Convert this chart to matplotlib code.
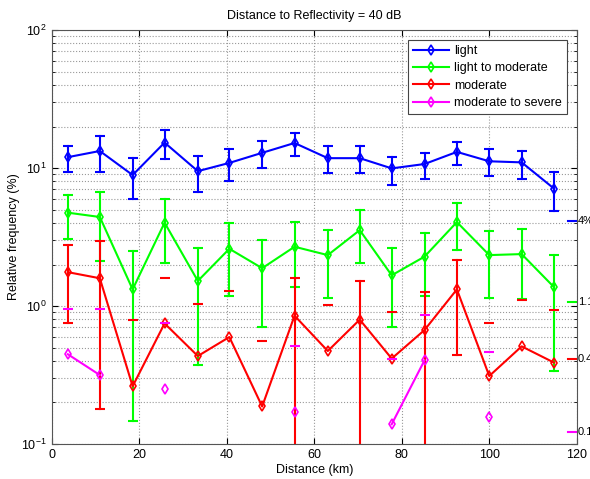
import matplotlib
matplotlib.use('Agg')
import matplotlib.pyplot as plt
import numpy as np

plt.rcParams['font.family'] = ['Liberation Sans', 'DejaVu Sans']

nan = np.nan

# Centres des classes de distance (km)
distance = [3.7, 11.0, 18.5, 25.8, 33.4, 40.6, 48.1, 55.5, 63.1, 70.4,
            77.7, 85.2, 92.6, 100.0, 107.4, 114.8]

# light
light = [12.0, 13.3, 8.9, 15.3, 9.5, 10.9, 12.9, 15.2, 11.8, 11.8, 9.95, 10.7, 13.1, 11.2, 11.0, 7.1]
light_haut = [14.4, 17.1, 11.8, 19.0, 12.2, 13.7, 15.7, 18.1, 14.4, 14.4, 12.0, 12.8, 15.5, 13.7, 13.3, 9.4]
light_bas = [9.4, 9.4, 6.0, 11.7, 6.7, 8.1, 10.0, 12.2, 9.2, 9.2, 7.6, 8.3, 10.5, 8.7, 8.3, 4.9]

# light to moderate
light_mod = [4.75, 4.42, 1.32, 4.02, 1.52, 2.6, 1.88, 2.69, 2.34, 3.55, 1.67, 2.28, 4.06, 2.34, 2.38, 1.37]
light_mod_haut = [6.37, 6.7, 2.49, 5.93, 2.62, 3.99, 3.01, 4.06, 3.54, 4.96, 2.62, 3.36, 5.55, 3.52, 3.6, 2.34]
light_mod_bas = [3.08, 2.12, 0.146, 2.05, 0.373, 1.18, 0.70, 1.37, 1.15, 2.05, 0.71, 1.18, 2.55, 1.15, 1.12, 0.338]

# moderate (None = borne basse negative, non tracee en log)
moderate = [1.76, 1.59, 0.262, 0.748, 0.434, 0.596, 0.187, 0.851, 0.472, 0.797, 0.416, 0.67, 1.32, 0.311, 0.51, 0.389]
moderate_haut = [2.77, 2.96, 0.787, 1.61, 1.03, 1.28, 0.561, 1.60, 1.02, 1.51, 0.90, 1.26, 2.17, 0.753, 1.10, 0.936]
moderate_bas = [0.757, 0.178, None, None, None, None, None, 0.05, None, 0.05, None, 0.05, 0.44, None, None, None]

# moderate to severe
mod_severe = [0.447, 0.316, nan, 0.252, nan, nan, nan, 0.171, nan, nan, 0.139, 0.404, nan, 0.157, nan, nan]
mod_severe_haut = [0.95, 0.95, None, 0.75, None, None, None, 0.51, None, None, 0.416, 0.867, None, 0.466, None, None]
mod_severe_bas = [None] * 16

# Valeurs moyennes affichees a droite
moyennes = [4.1, 1.07, 0.41, 0.122]
moyennes_txt = ['4%', '1.1%', '0.4%', '0.1%']

couleurs = ['#0000ff', '#00ff00', '#ff0000', '#ff00ff']
noms = ['light', 'light to moderate', 'moderate', 'moderate to severe']


def trace_serie(ax, x, y, haut, bas, couleur, nom):
    ax.plot(x, y, '-', color=couleur, lw=1.5, marker='d', mfc='none', mec=couleur,
            ms=5.5, mew=1.2, label=nom)
    for xi, hi, bi in zip(x, haut, bas):
        if hi is None:
            continue
        ax.plot([xi], [hi], marker='_', color=couleur, ms=7, mew=1.5)
        if bi is not None:
            ax.plot([xi, xi], [bi, hi], color=couleur, lw=1.5)
            ax.plot([xi], [bi], marker='_', color=couleur, ms=7, mew=1.5)


fig = plt.figure(figsize=(5.9, 4.79), dpi=100)
ax = fig.add_axes([0.0876, 0.0731, 0.890, 0.864])

trace_serie(ax, distance, light, light_haut, light_bas, couleurs[0], noms[0])
trace_serie(ax, distance, light_mod, light_mod_haut, light_mod_bas, couleurs[1], noms[1])
trace_serie(ax, distance, moderate, moderate_haut, moderate_bas, couleurs[2], noms[2])
trace_serie(ax, distance, mod_severe, mod_severe_haut, mod_severe_bas, couleurs[3], noms[3])

for val, txt, c in zip(moyennes, moyennes_txt, couleurs):
    ax.plot([118, 120], [val, val], color=c, lw=1.5)
    ax.text(120.2, val, txt, fontsize=8, va='center', ha='left', clip_on=False)

ax.set_yscale('log')
ax.set_xlim(0, 120)
ax.set_ylim(0.1, 100)
ax.set_xticks([0, 20, 40, 60, 80, 100, 120])
ax.grid(True, which='major', axis='x', ls=':', color='#999999', lw=0.8)
ax.grid(True, which='both', axis='y', ls=':', color='#999999', lw=0.8)
ax.tick_params(which='both', direction='in', top=True, right=True, labelsize=9)
ax.tick_params(which='major', length=4)
ax.tick_params(which='minor', length=2)
for s in ax.spines.values():
    s.set_color('#555555')

ax.set_xlabel('Distance (km)', fontsize=9, labelpad=2)
ax.set_ylabel('Relative frequency (%)', fontsize=9, labelpad=1)
ax.set_title('Distance to Reflectivity = 40 dB', fontsize=9, pad=8)

leg = ax.legend(loc='upper right', fontsize=9, fancybox=False, framealpha=1,
                edgecolor='#444444', borderaxespad=0.8, handlelength=2.9,
                labelspacing=0.42, handletextpad=0.4, borderpad=0.4)
leg.get_frame().set_linewidth(0.8)

plt.savefig('out.png', dpi=100)
